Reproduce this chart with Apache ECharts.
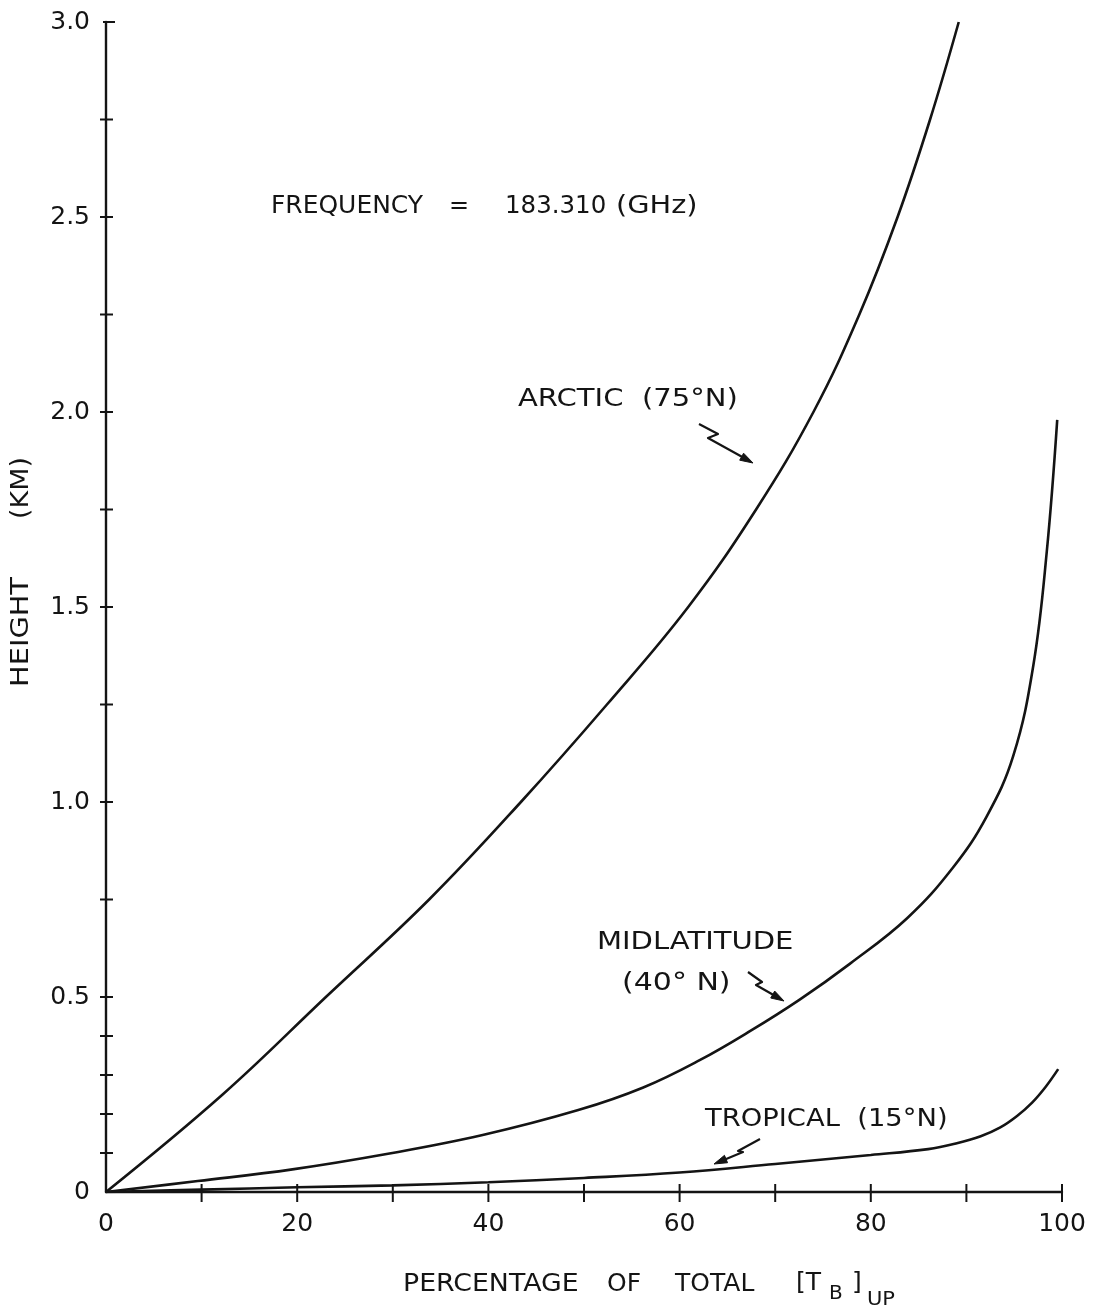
<!DOCTYPE html>
<html>
<head>
<meta charset="utf-8">
<title>Height vs percentage of upwelling brightness temperature, 183.310 GHz</title>
<script src="https://cdn.jsdelivr.net/npm/echarts@6/dist/echarts.min.js"></script>
<style>
  html, body { margin: 0; padding: 0; background: #ffffff; }
  #chart { width: 1095px; height: 1315px; }
</style>
</head>
<body>
<div id="chart"></div>
<script>
// Cumulative percentage of total upwelling brightness temperature [T_B]_UP
// reached below a given height (km), for three standard atmospheres.
const arcticPct = [0, 12.2, 23.0, 33.8, 43.4, 52.4, 60.9, 68.0, 74.0, 78.8, 82.8, 86.2, 89.2];
const arcticKm  = [0, 0.25, 0.5, 0.75, 1.0, 1.25, 1.5, 1.75, 2.0, 2.25, 2.5, 2.75, 3.0];

const midlatPct = [0, 9.6, 19.5, 29.5, 39.4, 49.4, 56.2, 62.1, 67.4, 72.6, 77.8, 83.8, 88.6, 92.1, 94.9, 97.0, 98.4, 99.5];
const midlatKm  = [0, 0.028, 0.058, 0.098, 0.146, 0.21, 0.268, 0.338, 0.413, 0.494, 0.585, 0.702, 0.832, 0.962, 1.118, 1.35, 1.64, 1.98];

const tropicPct = [0, 10, 20, 30, 40, 50, 60, 70, 80, 86, 89, 91.5, 93.5, 95.3, 96.9, 98.3, 99.6];
const tropicKm  = [0, 0.006, 0.012, 0.017, 0.025, 0.036, 0.05, 0.072, 0.095, 0.11, 0.125, 0.143, 0.165, 0.195, 0.23, 0.27, 0.315];

// Axis tick positions
const xTickValues = [10, 20, 30, 40, 50, 60, 70, 80, 90, 100];
const yTickValues = [0.1, 0.2, 0.3, 0.4, 0.5, 0.75, 1.0, 1.25, 1.5, 1.75, 2.0, 2.25, 2.5, 2.75, 3.0];

const INK = '#141414';
const FONT = 'DejaVu Sans';

function pairs(xs, ys) { return xs.map((x, i) => [x, ys[i]]); }

function curve(name, xs, ys) {
  return {
    name: name,
    type: 'line',
    data: pairs(xs, ys),
    smooth: 0.4,
    showSymbol: false,
    symbol: 'none',
    lineStyle: { color: INK, width: 2.6 },
    z: 3
  };
}

// Tick marks that cross the axis line, as in hand-drafted plots
const xTickSeries = {
  type: 'custom',
  data: xTickValues.map(v => [v, 0]),
  clip: false,
  silent: true,
  renderItem: function (params, api) {
    const p = api.coord([api.value(0), 0]);
    return {
      type: 'line',
      shape: { x1: p[0], y1: p[1] - 8, x2: p[0], y2: p[1] + 10 },
      style: { stroke: INK, lineWidth: 2 }
    };
  },
  z: 4
};

const yTickSeries = {
  type: 'custom',
  data: yTickValues.map(v => [0, v]),
  clip: false,
  silent: true,
  renderItem: function (params, api) {
    const v = api.value(1);
    const p = api.coord([0, v]);
    const top = v >= 3.0;
    return {
      type: 'line',
      shape: { x1: p[0] - (top ? 3 : 6), y1: p[1], x2: p[0] + (top ? 9 : 7), y2: p[1] },
      style: { stroke: INK, lineWidth: 2 }
    };
  },
  z: 4
};

// Hand-lettered style zig-zag pointer ending in an arrowhead
function pointer(points, tip) {
  const last = points[points.length - 1];
  const dx = tip[0] - last[0], dy = tip[1] - last[1];
  const len = Math.sqrt(dx * dx + dy * dy) || 1;
  const ux = dx / len, uy = dy / len;
  const bx = tip[0] - ux * 13, by = tip[1] - uy * 13;
  const px = -uy * 4, py = ux * 4;
  return [
    {
      type: 'polyline',
      shape: { points: points.concat([[tip[0] - ux * 6, tip[1] - uy * 6]]) },
      style: { stroke: INK, lineWidth: 2.2, fill: null, lineJoin: 'round' },
      z: 10
    },
    {
      type: 'polygon',
      shape: { points: [tip, [bx + px, by + py], [bx - px, by - py]] },
      style: { fill: INK, stroke: INK, lineWidth: 1 },
      z: 10
    }
  ];
}

// Lettering: left-aligned text, stretched horizontally like stencil lettering
function label(text, x, y, size, stretch, opts) {
  opts = opts || {};
  return {
    type: 'text',
    x: x, y: y,
    scaleX: stretch || 1,
    rotation: opts.rotation || 0,
    style: {
      text: text,
      font: 'normal ' + size + 'px "' + FONT + '"',
      fill: INK,
      textAlign: opts.align || 'left',
      textVerticalAlign: 'middle'
    },
    z: 10
  };
}

const chart = echarts.init(document.getElementById('chart'), null, { renderer: 'canvas' });

const option = {
  backgroundColor: '#ffffff',
  animation: false,
  grid: { left: 106, right: 33, top: 22, bottom: 123, containLabel: false },
  xAxis: {
    type: 'value',
    min: 0, max: 100, interval: 20,
    axisLine: { show: true, onZero: true, lineStyle: { color: INK, width: 2.4 } },
    axisTick: { show: false },
    splitLine: { show: false },
    axisLabel: {
      color: INK, fontFamily: FONT, fontSize: 25, margin: 20
    }
  },
  yAxis: {
    type: 'value',
    min: 0, max: 3, interval: 0.5,
    axisLine: { show: true, lineStyle: { color: INK, width: 2.4 } },
    axisTick: { show: false },
    splitLine: { show: false },
    axisLabel: {
      color: INK, fontFamily: FONT, fontSize: 25, margin: 16,
      formatter: function (v) { return v === 0 ? '0' : v.toFixed(1); }
    }
  },
  series: [
    curve('ARCTIC (75°N)', arcticPct, arcticKm),
    curve('MIDLATITUDE (40°N)', midlatPct, midlatKm),
    curve('TROPICAL (15°N)', tropicPct, tropicKm),
    xTickSeries,
    yTickSeries
  ],
  graphic: [
    // Frequency note
    label('FREQUENCY', 271, 207, 24, 1.04),
    label('=', 449, 207, 24, 1),
    label('183.310', 505, 207, 24, 1.02),
    label('(GHz)', 616, 207, 24, 1.2),

    // Curve labels
    label('ARCTIC  (75°N)', 518, 400, 24, 1.21),
    label('MIDLATITUDE', 597, 943, 24, 1.21),
    label('(40° N)', 622, 984, 24, 1.25),
    label('TROPICAL  (15°N)', 705, 1120, 24, 1.14),

    // Axis titles
    label('HEIGHT', 22, 632, 24, 1.2, { rotation: Math.PI / 2, align: 'center' }),
    label('(KM)', 22, 488, 24, 1.12, { rotation: Math.PI / 2, align: 'center' }),

    label('PERCENTAGE', 403, 1284, 25, 1.07),
    label('OF', 607, 1284, 25, 1),
    label('TOTAL', 675, 1284, 25, 1),
    label('[T', 796, 1283, 25, 1),
    label('B', 829, 1294, 20, 1),
    label(']', 852, 1283, 25, 1),
    label('UP', 867, 1300, 20, 1.05)
  ]
    .concat(pointer([[699, 424], [718, 434], [708, 438]], [753, 463]))
    .concat(pointer([[748, 972], [762, 982], [756, 985]], [784, 1001]))
    .concat(pointer([[760, 1139], [738, 1151], [743, 1152]], [714, 1164]))
};

chart.setOption(option);
</script>
</body>
</html>
